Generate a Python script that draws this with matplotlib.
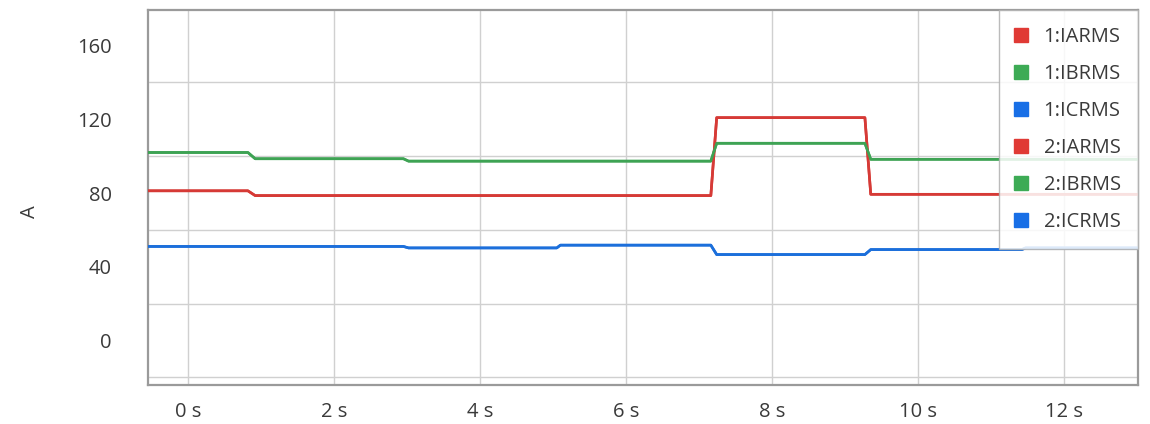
import matplotlib
matplotlib.use("Agg")
import matplotlib.pyplot as plt
from matplotlib.lines import Line2D

plt.rcParams['font.family'] = ['Open Sans', 'DejaVu Sans']

# Sample times (s) and RMS currents (A) for each phase
t_ia = [-0.6, 0.82, 0.92, 7.16, 7.24, 9.27, 9.35, 13.1]
ia_1 = [81.2, 81.2, 78.6, 78.6, 120.9, 120.9, 79.3, 79.3]

t_ib = [-0.6, 0.82, 0.92, 2.95, 3.02, 7.16, 7.24, 9.27, 9.35, 13.1]
ib_1 = [102.0, 102.0, 98.6, 98.6, 97.3, 97.3, 107.0, 107.0, 98.3, 98.3]

t_ic = [-0.6, 2.95, 3.02, 5.05, 5.10, 7.16, 7.24, 9.27, 9.35, 11.42, 11.47, 13.1]
ic_1 = [51.0, 51.0, 50.2, 50.2, 51.7, 51.7, 46.6, 46.6, 49.3, 49.3, 50.2, 50.2]

# Second device reports the same values
ia_2 = list(ia_1)
ib_2 = list(ib_1)
ic_2 = list(ic_1)

labels = ["1:IARMS", "1:IBRMS", "1:ICRMS", "2:IARMS", "2:IBRMS", "2:ICRMS"]
x_ticks = [0, 2, 4, 6, 8, 10, 12]
x_ticklabels = ["0 s", "2 s", "4 s", "6 s", "8 s", "10 s", "12 s"]
y_ticks = [0, 40, 80, 120, 160]

RED, GREEN, BLUE = "#d63a36", "#3ea354", "#1c6fdb"
LEG_RED, LEG_GREEN, LEG_BLUE = "#e03a35", "#3dab55", "#186fe6"
TEXT = "#3a3a3a"
FS = 14.5

fig = plt.figure(figsize=(11.5, 4.24), dpi=100)
ax = fig.add_axes([148 / 1150, 1 - 385 / 424, 990 / 1150, 375.5 / 424])

series = [
    (t_ia, ia_1, RED), (t_ib, ib_1, GREEN), (t_ic, ic_1, BLUE),
    (t_ia, ia_2, RED), (t_ib, ib_2, GREEN), (t_ic, ic_2, BLUE),
]
for t, v, c in series:
    ax.plot(t, v, color=c, lw=1.9, solid_joinstyle="round", zorder=3)

ax.set_xlim(-0.548, 13.01)
ax.set_ylim(-24.2, 179.6)

ax.set_xticks(x_ticks)
ax.set_xticklabels(x_ticklabels)
ax.set_yticks(y_ticks)
ax.set_yticks(range(-20, 180, 20), minor=True)

ax.grid(True, which="major", axis="x", color="#d0d0d0", lw=1.0)
ax.grid(True, which="minor", axis="y", color="#d0d0d0", lw=1.0)
ax.set_axisbelow(True)

ax.tick_params(axis="both", which="both", length=0, labelsize=FS,
               labelcolor=TEXT)
ax.tick_params(axis="y", pad=26)
ax.tick_params(axis="x", pad=12)

for s in ax.spines.values():
    s.set_color("#9a9a9a")
    s.set_linewidth(1.6)

fig.text(30 / 1150, 1 - 212 / 424, "A", rotation=90, ha="center",
         va="center", fontsize=FS, color=TEXT)

handle_colors = [LEG_RED, LEG_GREEN, LEG_BLUE, LEG_RED, LEG_GREEN, LEG_BLUE]
handles = [Line2D([], [], linestyle="none", marker="s", markersize=10,
                  markerfacecolor=c, markeredgecolor=c) for c in handle_colors]
leg = ax.legend(handles, labels, loc="upper right", bbox_to_anchor=(1.0, 1.0),
                frameon=True, fancybox=False, framealpha=0.85,
                edgecolor="#b0b0b0", fontsize=FS, labelspacing=0.85,
                handletextpad=0.85, borderpad=0.85, borderaxespad=0.0,
                handlelength=0.5)
leg.get_frame().set_linewidth(1.0)
for txt in leg.get_texts():
    txt.set_color(TEXT)

fig.savefig("out.png", dpi=100, facecolor="white")
